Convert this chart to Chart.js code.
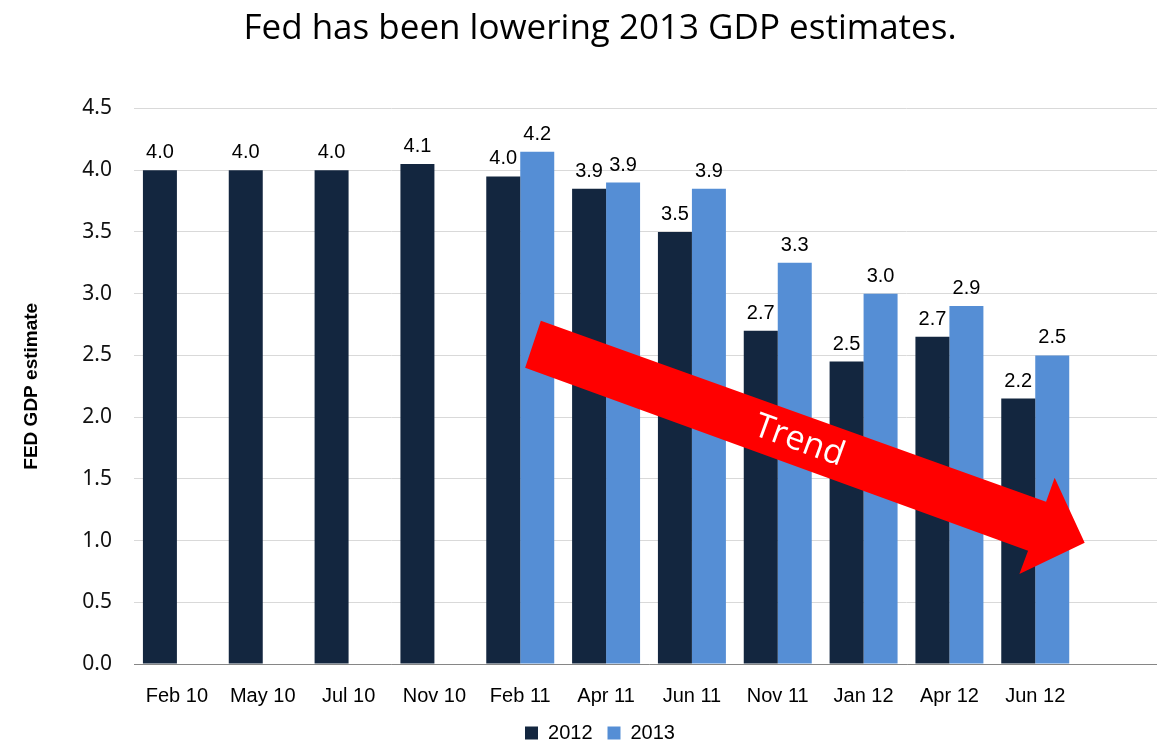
<!DOCTYPE html>
<html><head><meta charset="utf-8">
<script src="https://cdn.jsdelivr.net/npm/chart.js@4"></script>
<style>
html,body{margin:0;padding:0;background:#fff;overflow:hidden;width:1157px;height:756px}
#wrap{position:absolute;left:0;top:0;width:1202px;height:756px}
</style></head><body>
<div id="wrap"><canvas id="c" width="1202" height="756"></canvas></div>
<script>
const categories = ['Feb 10','May 10','Jul 10','Nov 10','Feb 11','Apr 11','Jun 11','Nov 11','Jan 12','Apr 12','Jun 12'];
const series2012 = [4.0, 4.0, 4.0, 4.05, 3.95, 3.85, 3.5, 2.7, 2.45, 2.65, 2.15];
const series2013 = [null, null, null, null, 4.15, 3.9, 3.85, 3.25, 3.0, 2.9, 2.5];
const seriesNames = ['2012', '2013'];
const yMin = 0, yMax = 4.5, yStep = 0.5;
const chartTitle = 'Fed has been lowering 2013 GDP estimates.';
const yAxisTitle = 'FED GDP estimate';
const trendLabel = 'Trend';
// annotation arrow outline in (category index, value) coordinates
const trendArrowX = [4.24, 10.126, 10.226, 10.576, 9.815, 9.916, 4.057];
const trendArrowY = [2.78, 1.314, 1.509, 0.982, 0.729, 0.917, 2.399];
const trendTextAt = [7.25, 1.806];

const valueLabels = {
  id: 'valueLabels',
  afterDatasetsDraw(chart) {
    const ctx = chart.ctx;
    ctx.save();
    ctx.font = '20px "Liberation Sans", Arial, sans-serif';
    ctx.fillStyle = '#000';
    ctx.textAlign = 'center';
    ctx.textBaseline = 'alphabetic';
    chart.data.datasets.forEach((ds, i) => {
      const meta = chart.getDatasetMeta(i);
      meta.data.forEach((bar, j) => {
        const v = ds.data[j];
        if (v == null) return;
        ctx.fillText((Math.round(v * 10 + 1e-9) / 10).toFixed(1), bar.x, bar.y - 12);
      });
    });
    ctx.restore();
  }
};

const trendArrow = {
  id: 'trendArrow',
  afterDatasetsDraw(chart) {
    const {ctx, scales: {x, y}} = chart;
    const pts = trendArrowX.map((v, i) => [x.getPixelForValue(v), y.getPixelForValue(trendArrowY[i])]);
    ctx.save();
    ctx.beginPath();
    pts.forEach((p, i) => i ? ctx.lineTo(p[0], p[1]) : ctx.moveTo(p[0], p[1]));
    ctx.closePath();
    ctx.fillStyle = '#FF0000';
    ctx.fill();
    const a = pts[6], b = pts[5];
    const ang = Math.atan2(b[1] - a[1], b[0] - a[0]);
    ctx.translate(x.getPixelForValue(trendTextAt[0]), y.getPixelForValue(trendTextAt[1]));
    ctx.rotate(ang);
    ctx.font = '34px "Open Sans", sans-serif';
    ctx.fillStyle = '#fff';
    ctx.textAlign = 'center';
    ctx.textBaseline = 'middle';
    ctx.fillText(trendLabel, 0, 0);
    ctx.restore();
  }
};

new Chart(document.getElementById('c'), {
  type: 'bar',
  data: {
    labels: [...categories, ''],
    datasets: [
      {label: seriesNames[0], data: series2012, backgroundColor: '#13263F'},
      {label: seriesNames[1], data: series2013, backgroundColor: '#558ED5'}
    ]
  },
  options: {
    responsive: false,
    animation: false,
    devicePixelRatio: 1,
    layout: {padding: {left: 36, right: 38, top: 0, bottom: 3}},
    datasets: {bar: {categoryPercentage: 0.792, barPercentage: 1}},
    plugins: {
      title: {display: true, text: chartTitle, color: '#000',
        font: {family: '"Open Sans", sans-serif', size: 35, weight: 'normal'},
        padding: {top: 8, bottom: 58.5}},
      legend: {position: 'bottom',
        labels: {boxWidth: 13, boxHeight: 13, padding: 15, color: '#000',
          font: {family: '"Liberation Sans", Arial, sans-serif', size: 20}}},
      tooltip: {enabled: false}
    },
    scales: {
      x: {
        grid: {display: true, color: 'rgba(0,0,0,0)', drawTicks: true, tickLength: 20},
        border: {display: true, color: '#868686', width: 1},
        ticks: {padding: 2, color: '#000', maxRotation: 0, autoSkip: false,
          font: {family: '"Liberation Sans", Arial, sans-serif', size: 20, lineHeight: 1.0}}
      },
      y: {
        min: yMin, max: yMax,
        ticks: {stepSize: yStep, padding: 22, color: '#111',
          font: {family: '"Noto Sans", sans-serif', size: 21},
          callback: v => Number(v).toFixed(1)},
        grid: {color: '#d9d9d9', drawTicks: false},
        border: {display: false},
        title: {display: true, text: yAxisTitle, color: '#000',
          font: {family: '"Liberation Sans", Arial, sans-serif', size: 19, weight: 'bold'},
          padding: {top: -16, bottom: 0}},
        afterFit(s) { s.width = 98; }
      }
    }
  },
  plugins: [valueLabels, trendArrow]
});
</script>
</body></html>
